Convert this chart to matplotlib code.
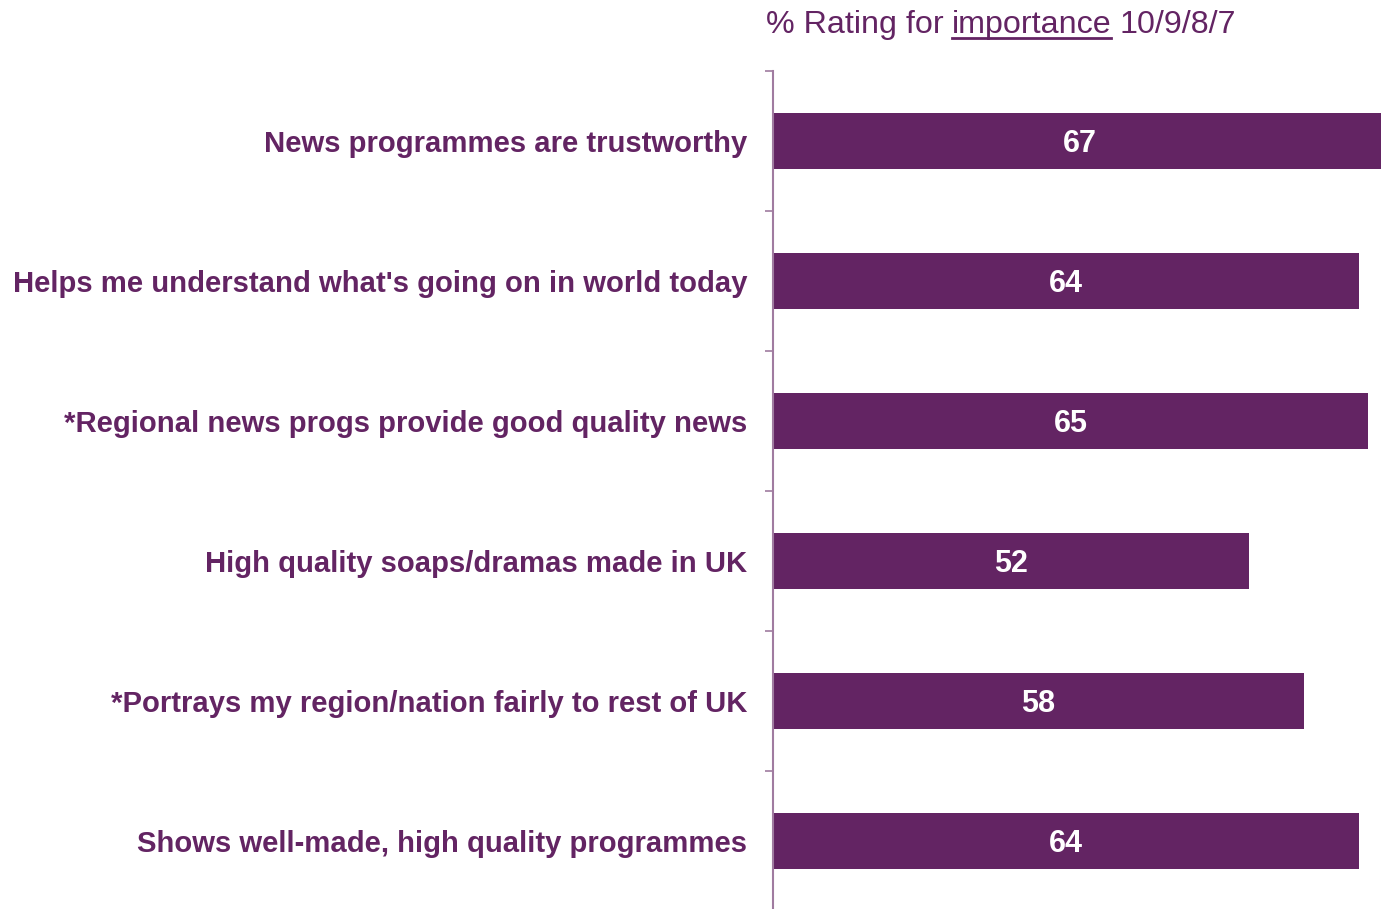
import matplotlib
matplotlib.use("Agg")
import matplotlib.pyplot as plt
from matplotlib.lines import Line2D

plt.rcParams['font.family'] = ['Liberation Sans', 'DejaVu Sans']

statements = [
    "News programmes are trustworthy",
    "Helps me understand what's going on in world today",
    "*Regional news progs provide good quality news",
    "High quality soaps/dramas made in UK",
    "*Portrays my region/nation fairly to rest of UK",
    "Shows well-made, high quality programmes",
]
ratings = [67, 64, 65, 52, 58, 64]

purple = "#632463"
axis_col = "#A07BA0"

W, H, DPI = 1381, 909, 100
fig = plt.figure(figsize=(W / DPI, H / DPI), dpi=DPI)

# axes spans from the category axis to the right edge; first bar runs off the edge
ax_left, ax_top, ax_bottom = 773, 71, 911
ax = fig.add_axes([ax_left / W, (H - ax_bottom) / H,
                   (W - ax_left) / W, (ax_bottom - ax_top) / H])

pos = list(range(len(statements)))
ax.barh(pos, ratings, height=0.4, color=purple, zorder=2)
for p, v in zip(pos, ratings):
    ax.text(v / 2, p, str(v), ha="center", va="center_baseline", color="white",
            fontsize=22, fontweight="bold", zorder=3)

ax.set_xlim(0, 66.4)
ax.set_ylim(len(statements) - 0.5, -0.5)

for side in ("top", "right", "bottom"):
    ax.spines[side].set_visible(False)
ax.spines["left"].set_color(axis_col)
ax.spines["left"].set_linewidth(1.5)
ax.set_xticks([])

ax.set_yticks(pos)
ax.set_yticklabels(statements, fontsize=21.1, fontweight="bold", color=purple)
ax.tick_params(axis="y", which="major", length=0, pad=18.5)
ax.set_yticks([p - 0.5 for p in pos], minor=True)
ax.tick_params(axis="y", which="minor", length=6, width=1.2, color=axis_col)

# title in three pieces so the middle word can be underlined
fig.canvas.draw()
r = fig.canvas.get_renderer()
x0, base = 766, H - 33
parts = ["% Rating for", "importance", "10/9/8/7"]
space = 8
texts = []
x = x0
for s in parts:
    t = fig.text(x / W, base / H, s, fontsize=23.2, color=purple,
                 ha="left", va="baseline")
    bb = t.get_window_extent(renderer=r)
    texts.append((t, bb))
    x = bb.x1 + space

bb = texts[1][1]
uy = (base - 5) / H
fig.add_artist(Line2D([bb.x0 / W, bb.x1 / W], [uy, uy], color=purple,
                      linewidth=2, transform=fig.transFigure))

fig.savefig("out.png", dpi=DPI)
